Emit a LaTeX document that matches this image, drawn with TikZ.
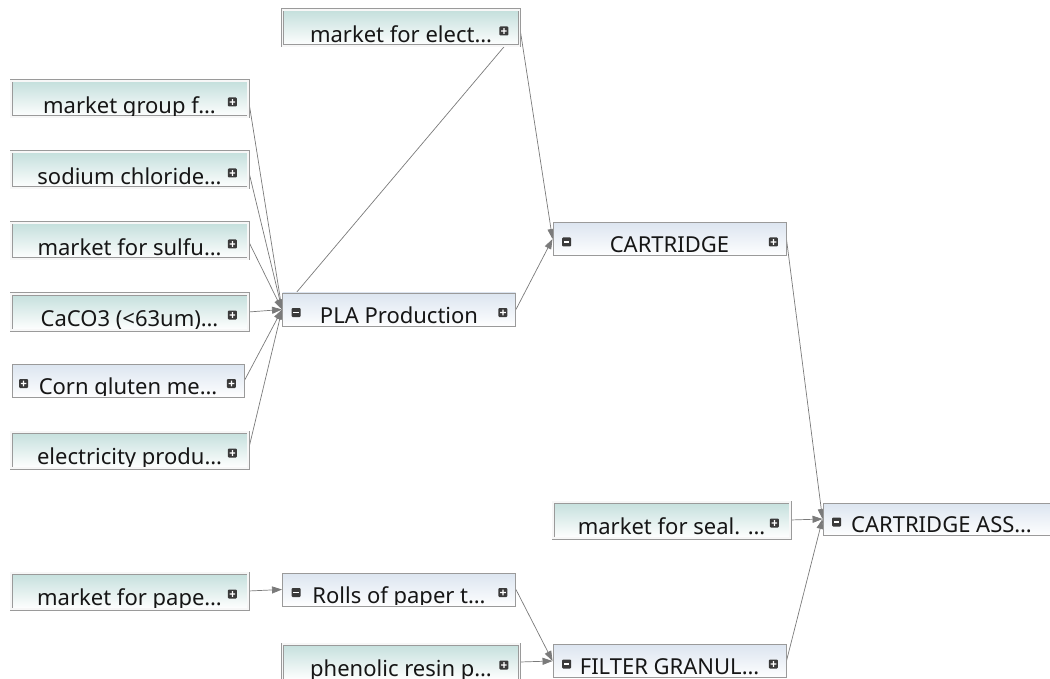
\documentclass[tikz,border=0pt]{standalone}
\usepackage{fontspec}
\setmainfont{Noto Sans}
\usepackage{xcolor}
\usetikzlibrary{arrows.meta}

\definecolor{proctop}{HTML}{C4DFDC}
\definecolor{prodtop}{HTML}{DCE5F0}
\definecolor{boxgray}{HTML}{9A9A9A}
\definecolor{linegray}{HTML}{7A7A7A}
\definecolor{btnfill}{HTML}{3A3A3A}
\definecolor{textdark}{HTML}{161616}

\pgfdeclarelayer{background}
\pgfsetlayers{background,main}

\tikzset{
  procbox/.style={rectangle, minimum width=237pt, minimum height=36pt, inner sep=0pt,
    top color=proctop, bottom color=white, draw=boxgray, line width=0.8pt,
    double=white!92!boxgray, double distance=1.4pt},
  prodbox/.style={rectangle, minimum width=233pt, minimum height=33pt, inner sep=0pt,
    top color=prodtop, bottom color=white!96!prodtop, draw=boxgray, line width=0.9pt},
  boxlabel/.style={inner sep=0pt, text=textdark, font=\fontsize{22}{26}\selectfont},
  flow/.style={draw=linegray, line width=0.7pt, -{Triangle[length=10pt,width=7pt]}},
  plusbtn/.pic={
    \fill[btnfill, rounded corners=1pt] (-4.5pt,-4.5pt) rectangle (4.5pt,4.5pt);
    \fill[white] (-2.8pt,-0.6pt) rectangle (2.8pt,0.6pt) (-0.6pt,-2.8pt) rectangle (0.6pt,2.8pt);},
  minusbtn/.pic={
    \fill[btnfill, rounded corners=1pt] (-4.5pt,-4.5pt) rectangle (4.5pt,4.5pt);
    \fill[white] (-2.8pt,-0.6pt) rectangle (2.8pt,0.6pt);}
}

% clipped label: [baseline lift]{node}{text}
\newcommand{\boxtext}[3][4pt]{%
  \begin{scope}
    \clip ([xshift=3pt,yshift=2pt]#2.south west) rectangle ([xshift=-3pt,yshift=-2pt]#2.north east);
    \node[boxlabel, anchor=base] at ([yshift=#1]#2.south) {#3};
  \end{scope}}
\newcommand{\procnode}[4]{% name, x, y, text
  \node[procbox] (#1) at (#2,#3) {};
  \boxtext{#1}{#4}
  \pic at ([xshift=-16pt,yshift=-3pt]#1.east) {plusbtn};}
\newcommand{\prodnode}[4]{% name, x, y, text
  \node[prodbox] (#1) at (#2,#3) {};
  \boxtext[3pt]{#1}{#4}
  \pic at ([xshift=14pt,yshift=-3pt]#1.west) {minusbtn};
  \pic at ([xshift=-13pt,yshift=-3pt]#1.east) {plusbtn};}

\begin{document}
\begin{tikzpicture}[x=1pt,y=-1pt]
  \useasboundingbox (0,0) rectangle (1050,679);

  % inputs of PLA
  \procnode{mkgrp}{129.5}{99}{market group f…}
  \procnode{nacl}{129.5}{170}{sodium chloride…}
  \procnode{sulf}{129.5}{241}{market for sulfu…}
  \procnode{caco}{129.5}{312}{CaCO3 (<63um)…}
  \node[prodbox, minimum width=232pt] (corn) at (128,380.5) {};
  \boxtext[3pt]{corn}{Corn gluten me…}
  \pic at ([xshift=12pt,yshift=-3pt]corn.west) {plusbtn};
  \pic at ([xshift=-13pt,yshift=-3pt]corn.east) {plusbtn};
  \procnode{elprod}{129.5}{450}{electricity produ…}
  \procnode{mkel}{401}{28}{market for elect…}

  % filter branch
  \procnode{paper}{129.5}{591}{market for pape…}
  \prodnode{rolls}{399}{589.5}{Rolls of paper t…}
  \procnode{phenol}{401}{662}{phenolic resin p…}

  % products
  \prodnode{pla}{399}{309.5}{PLA Production}
  \prodnode{cart}{669.5}{239}{CARTRIDGE}
  \procnode{seal}{671.5}{520}{market for seal. …}
  \prodnode{filter}{669.5}{661}{FILTER GRANUL…}
  \node[prodbox, minimum width=237pt, minimum height=32pt] (assy) at (941.5,519) {};
  \boxtext[3pt]{assy}{CARTRIDGE ASS…}
  \pic at ([xshift=14pt,yshift=-3pt]assy.west) {minusbtn};

  \begin{pgfonlayer}{background}
    \foreach \src in {mkgrp,nacl,sulf,caco,corn,elprod,mkel}
      \draw[flow] (\src.east) -- (pla.west);
    \foreach \src in {mkel,pla}
      \draw[flow] (\src.east) -- (cart.west);
    \draw[flow] (paper.east) -- (rolls.west);
    \foreach \src in {rolls,phenol}
      \draw[flow] (\src.east) -- (filter.west);
    \foreach \src in {cart,seal,filter}
      \draw[flow] (\src.east) -- (assy.west);
  \end{pgfonlayer}
\end{tikzpicture}
\end{document}
